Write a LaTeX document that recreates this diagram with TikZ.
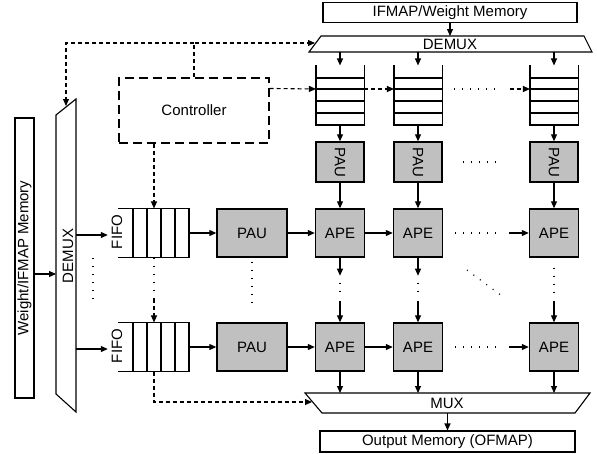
\documentclass[tikz,border=0pt]{standalone}
\usepackage{fontspec}
\setmainfont{Liberation Sans}
\usepackage{xcolor}
\usetikzlibrary{arrows.meta}
\definecolor{pegray}{RGB}{192,192,192}

\begin{document}
\begin{tikzpicture}[x=1pt,y=-1pt,>={Triangle[length=7pt,width=6pt]},font=\fontsize{15}{18}\selectfont,line width=1.1pt,
  unit/.style={draw,fill=pegray,line width=1.4pt,inner sep=0pt,minimum width=49,minimum height=48},
  mem/.style={draw,inner sep=0pt},
  sig/.style={dash pattern=on 4pt off 3pt},
  dotline/.style={line width=1.2pt,dash pattern=on 1pt off 7pt}] % pixel grid, y down
   \useasboundingbox (0,0) rectangle (597,453);
   % memories and (de)multiplexers
   \node[mem,minimum width=254,minimum height=20] (ifmem) at (450,12.5) {IFMAP/Weight Memory};
   \node[mem,minimum width=19,minimum height=280] (wmem) at (24.5,258) {\rotatebox{90}{Weight/IFMAP Memory}};
   \node[mem,minimum width=255,minimum height=21] (omem) at (447.5,441.5) {Output Memory (OFMAP)};
   \draw (321,36) -- (584,36) -- (592,52) -- (309,52) -- cycle; % top demux
   \node (dmxt) at (450,44) {DEMUX};
   \draw (56,115) -- (76,99) -- (76,412) -- (56,394) -- cycle; % left demux
   \node (dmxl) at (68,256) {\rotatebox{90}{DEMUX}};
   \draw (305,393) -- (590,393) -- (575,413) -- (322,413) -- cycle; % mux
   \node (mux) at (447,403) {MUX};
   \coordinate (dmxtin) at (315,43);
   \coordinate (dmxlin) at (66,106);
   \coordinate (muxin) at (312,402);
   \coordinate (muxtop) at (0,393);
   \coordinate (dmxtbot) at (0,52);
   \coordinate (qlvl) at (0,89);
   \draw[->] (ifmem.south -| dmxt) -- (dmxt.north |- 0,36);
   \draw[->] (wmem.east |- 0,274) -- (56,274);
   \draw[->] (omem.north |- 0,413) -- (omem.north);
   % controller
   \node[draw,dash pattern=on 9pt off 5pt,minimum width=150,minimum height=65] (ctrl) at (194,110.5) {Controller};
   \draw[sig,->] (ctrl.north) |- (dmxtin);
   \draw[sig,->] (ctrl.north |- dmxtin) -| (dmxlin);
   % column fifos, column PAUs and the APE array
   \foreach \i/\c in {1/340,2/418,3/554}
   {\node[inner sep=0pt,minimum width=47,minimum height=59] (q\i) at (\c,95.5) {};
    \draw (q\i.north west) -- (q\i.south west) (q\i.north east) -- (q\i.south east);
    \foreach \y in {78,89,101,113,125} {\draw (q\i.west |- 0,\y) -- (q\i.east |- 0,\y);}
    \draw[->] (q\i.north |- dmxtbot) -- (q\i.north);
    \node[unit,minimum width=48,minimum height=40] (pv\i) at (\c,162) {\rotatebox{-90}{PAU}};
    \node[unit] (a1\i) at (\c,233) {APE};
    \node[unit] (a2\i) at (\c,347) {APE};
    \draw[->] (q\i.south) -- (pv\i.north);
    \draw[->] (pv\i.south) -- (a1\i.north);
    \draw[->] ([yshift=21pt]a2\i.north) -- (a2\i.north);
    \draw[->] (a2\i.south) -- (a2\i.south |- muxtop);}
   \foreach \i in {1,2}
   {\draw[->] (a1\i.south) -- ++(0,18);
    \draw[dotline] ([yshift=-25pt]a1\i.south) -- ([yshift=24pt]a2\i.north);}
   \draw[dotline] ([yshift=-10pt]a13.south) -- ([yshift=27pt]a23.north);
   \draw[dotline] (467,270) -- (502,296); % diagonal
   \draw[sig,->] ([yshift=-11pt]ctrl.north east) -- (q1.west |- qlvl);
   \draw[sig,->] (q1.east |- qlvl) -- (q2.west |- qlvl);
   \draw[dotline] ([xshift=12pt]q2.east |- qlvl) -- ([xshift=-33pt]q3.west |- qlvl);
   \draw[sig,->] ([xshift=-20pt]q3.west |- qlvl) -- (q3.west |- qlvl);
   \draw[dotline] ([xshift=20pt]pv2.east) -- ([xshift=-33pt]pv3.west);
   % row fifos and row PAUs
   \foreach \r/\y in {1/233,2/347}
   {\node[inner sep=0pt,minimum width=70,minimum height=48] (f\r) at (154,\y) {};
    \draw (f\r.north west) -- (f\r.north east) (f\r.south west) -- (f\r.south east);
    \foreach \x in {-21,-7,7,21,35} {\draw ([xshift=\x pt]f\r.north) -- ([xshift=\x pt]f\r.south);}
    \node (fl\r) at (117,\y-1) {\rotatebox{90}{FIFO}};
    \coordinate (dl\r) at (76,\y+2);
    \draw[->] (dl\r) -- (fl\r.west |- dl\r);
    \node[unit,minimum width=70] (ph\r) at (252,\y) {PAU};
    \draw[->] (f\r.east) -- (ph\r.west);
    \draw[->] (ph\r.east) -- (a\r1.west);
    \draw[->] (a\r1.east) -- (a\r2.west);
    \draw[dotline] ([xshift=12pt]a\r2.east) -- ([xshift=-33pt]a\r3.west);
    \draw[->] ([xshift=-20pt]a\r3.west) -- (a\r3.west);}
   \draw[dotline] (93,258) -- (93,300); % between demux outputs
   \draw[dotline] ([yshift=-4pt]ph1.south) -- ([yshift=20pt]ph2.north);
   \draw[dotline] (f1.south) -- ([yshift=23pt]f2.north);
   \draw[sig,->] ([yshift=23pt]f2.north) -- (f2.north);
   \draw[sig,->] (ctrl.south -| f1.north) -- (f1.north);
   \draw[sig,->] (f2.south) |- (muxin);
\end{tikzpicture}
\end{document}
